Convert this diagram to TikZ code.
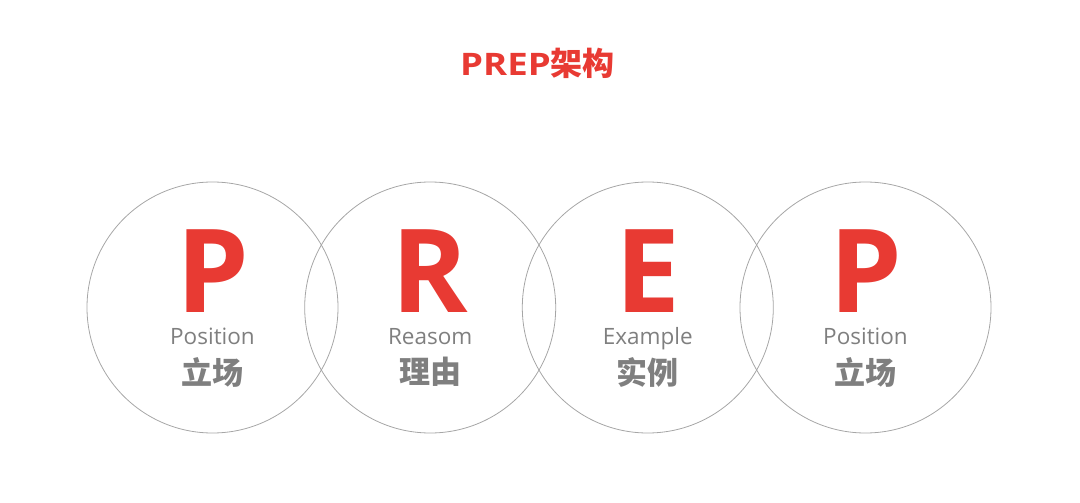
\documentclass[tikz,border=0pt]{standalone}
\usepackage{fontspec}
\setmainfont{Open Sans}
\newfontfamily\cjk{Noto Sans CJK SC}
\newfontfamily\headfont[FakeStretch=1.18]{Open Sans}
\definecolor{prepred}{HTML}{E83A33}
\definecolor{prepgray}{HTML}{7F7F7F}
\definecolor{ringgray}{HTML}{A6A6A6}

\begin{document}
\begin{tikzpicture}[x=1pt,y=-1pt,
  ring/.style={draw=ringgray,line width=0.8pt,circle,minimum size=251pt,inner sep=0pt},
  letter/.style={anchor=base,inner sep=0pt,text depth=0pt,text=prepred,font=\fontsize{116}{116}\selectfont\bfseries},
  eng/.style={anchor=base,inner sep=0pt,text depth=0pt,text=prepgray,font=\fontsize{22.5}{22.5}\selectfont},
  chn/.style={inner sep=0pt,text=prepgray,font=\fontsize{31}{31}\selectfont\cjk\bfseries},
  title/.style={anchor=base,inner sep=0pt,text=prepred,font=\fontsize{31}{31}\selectfont\headfont\bfseries}]
\useasboundingbox (0,0) rectangle (1080,503);
\node[title] (head) at (537.5,75.5) {PREP{\fontsize{32}{32}\selectfont\cjk\bfseries 架构}};
% the four rings
\node[ring] (ringP) at (212.5,307.5) {};
\node[ring] (ringR) at (430.2,307.5) {};
\node[ring] (ringE) at (647.8,307.5) {};
\node[ring] (ringQ) at (865.5,307.5) {};
% letters, words
\node[letter] (letP) at (212.5,312) {P};
\node[eng] (engP) at (212.5,344) {Position};
\node[chn] (chnP) at (212.5,372) {立场};
\node[letter] (letR) at (430.2,312) {R};
\node[eng] (engR) at (430.2,344) {Reasom};
\node[chn] (chnR) at (430.2,372) {理由};
\node[letter] (letE) at (647.8,312) {E};
\node[eng] (engE) at (647.8,344) {Example};
\node[chn] (chnE) at (647.8,372) {实例};
\node[letter] (letQ) at (865.5,312) {P};
\node[eng] (engQ) at (865.5,344) {Position};
\node[chn] (chnQ) at (865.5,372) {立场};
\end{tikzpicture}
\end{document}
